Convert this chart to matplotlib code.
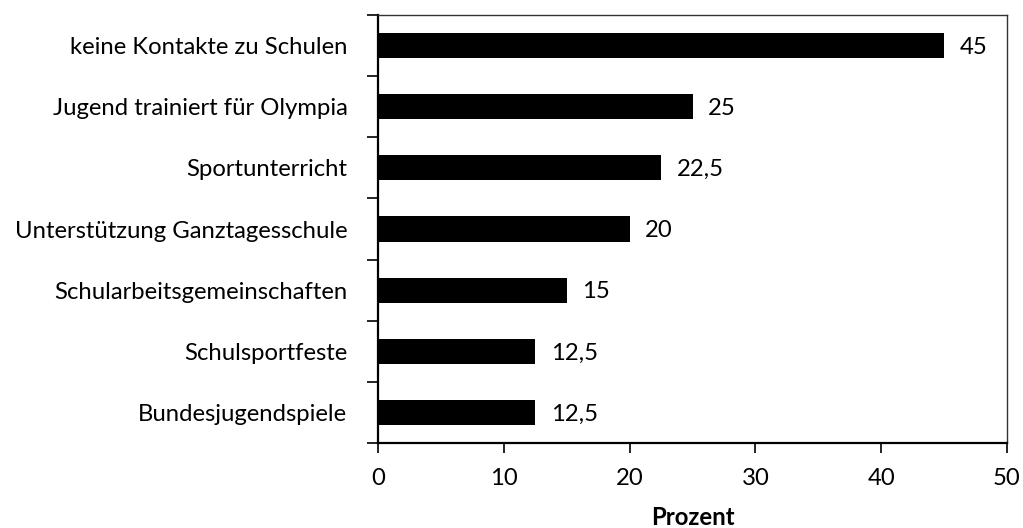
import matplotlib
matplotlib.use("Agg")
import matplotlib.pyplot as plt
from matplotlib.ticker import FixedLocator, NullFormatter

categories = ["keine Kontakte zu Schulen", "Jugend trainiert für Olympia", "Sportunterricht",
              "Unterstützung Ganztagesschule", "Schularbeitsgemeinschaften", "Schulsportfeste",
              "Bundesjugendspiele"]
values = [45, 25, 22.5, 20, 15, 12.5, 12.5]
value_labels = ["45", "25", "22,5", "20", "15", "12,5", "12,5"]
xticks = [0, 10, 20, 30, 40, 50]

plt.rcParams['font.family'] = ['Lato', 'DejaVu Sans']
FS = 17.2

fig = plt.figure(figsize=(10.23, 5.28), dpi=100)
ax = fig.add_axes([378/1023, 1-443/528, (1007-378)/1023, (443-15)/528])

n = len(categories)
ypos = list(range(n))[::-1]
ax.barh(ypos, values, height=0.41, color='black')
for y, v, lab in zip(ypos, values, value_labels):
    ax.text(v + 1.25, y - 0.03, lab, va='center', ha='left', fontsize=FS)

ax.set_xlim(0, 50)
ax.set_ylim(-0.5, n - 0.5)
ax.set_xticks(xticks)
ax.set_xticklabels([str(t) for t in xticks], fontsize=FS)
ax.set_yticks(ypos)
ax.set_yticklabels(categories, fontsize=FS)
ax.tick_params(axis='y', which='major', length=0, pad=22)
ax.yaxis.set_minor_locator(FixedLocator([i + 0.5 for i in range(-1, n)]))
ax.yaxis.set_minor_formatter(NullFormatter())
ax.tick_params(axis='y', which='minor', length=8, width=1.2, direction='out')
ax.tick_params(axis='x', which='major', length=7, width=1.2, direction='out', pad=11)
ax.set_xlabel("Prozent", fontsize=FS, fontweight='bold', labelpad=12)

for s in ['left', 'bottom']:
    ax.spines[s].set_linewidth(1.6)
for s in ['top', 'right']:
    ax.spines[s].set_linewidth(1.0)
    ax.spines[s].set_color('#333333')

fig.savefig("out.png", dpi=100)
